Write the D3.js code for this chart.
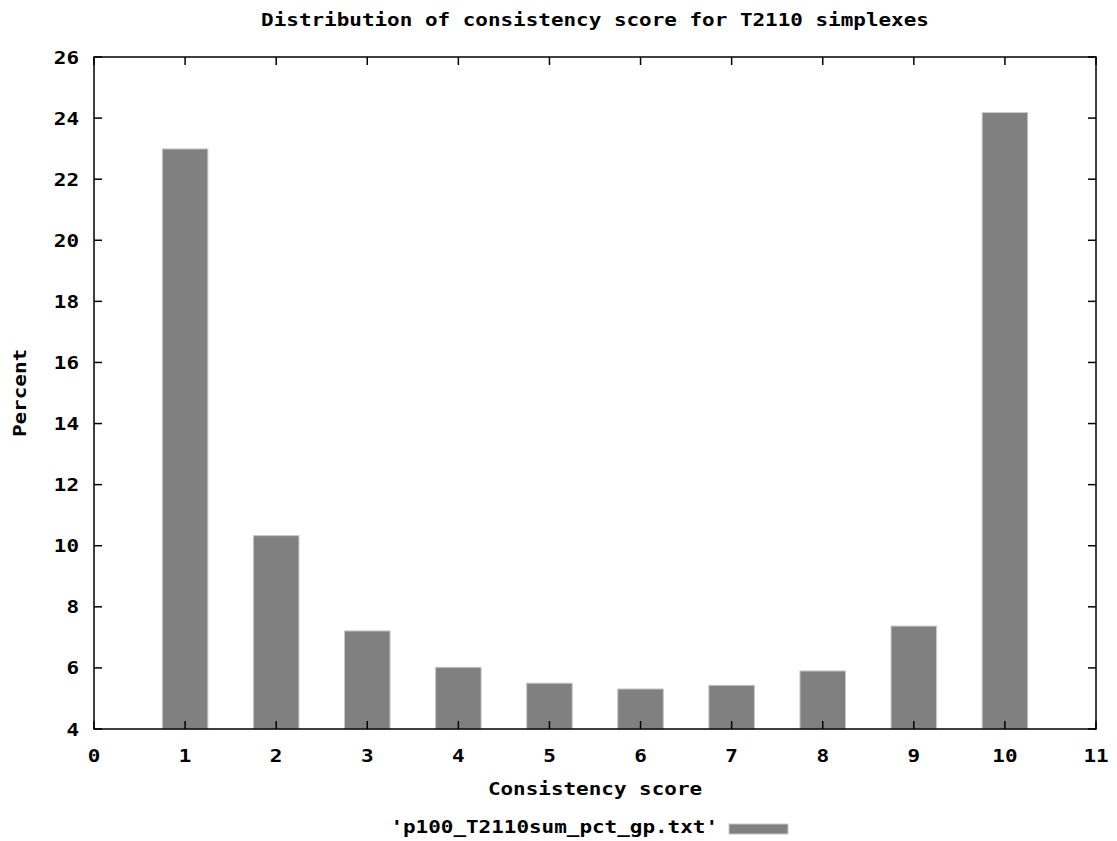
<!DOCTYPE html>
<html>
<head>
<meta charset="utf-8">
<script src="https://cdn.jsdelivr.net/npm/d3@7"></script>
<style>
  body { margin: 0; background: #fff; }
  text { font-family: "DejaVu Sans Mono", monospace; font-weight: bold; fill: #000; }
</style>
</head>
<body>
<div id="chart"></div>
<script>
const width = 1117;
const height = 841;
const margin = {top: 57, right: 21, bottom: 112, left: 94};
const charW = 12.6; // the bitmap font is wide, stretch text to match

const scores = [1, 2, 3, 4, 5, 6, 7, 8, 9, 10];
const percents = [22.99, 10.33, 7.21, 6.02, 5.50, 5.31, 5.43, 5.90, 7.37, 24.18];
const xTicks = [0, 1, 2, 3, 4, 5, 6, 7, 8, 9, 10, 11];
const yTicks = [4, 6, 8, 10, 12, 14, 16, 18, 20, 22, 24, 26];
const seriesName = "'p100_T2110sum_pct_gp.txt'";

const svg = d3.select("#chart").append("svg")
    .attr("width", width)
    .attr("height", height);

const x = d3.scaleLinear()
    .domain([0, 11])
    .range([margin.left, width - margin.right]);
const y = d3.scaleLinear()
    .domain([4, 26])
    .range([height - margin.bottom, margin.top]);

function label(str, px, py, anchor) {
    return svg.append("text")
        .attr("x", px)
        .attr("y", py)
        .attr("text-anchor", anchor || "middle")
        .style("font-size", "18px")
        .attr("textLength", str.length * charW)
        .attr("lengthAdjust", "spacingAndGlyphs")
        .text(str);
}

// bars, width 0.5 units
svg.append("g")
    .selectAll("rect")
    .data(scores)
    .enter().append("rect")
    .attr("x", (d) => x(d - 0.25))
    .attr("width", x(0.5) - x(0))
    .attr("y", (d, i) => y(percents[i]))
    .attr("height", (d, i) => y(4) - y(percents[i]))
    .attr("fill", "#808080")
    .attr("stroke", "#c8c8c8")
    .attr("stroke-width", 1);

// inward ticks on all four sides
const tickLen = 8;
const ticks = svg.append("g").attr("stroke", "#000").attr("stroke-width", 1.5);
xTicks.forEach((t) => {
    ticks.append("line").attr("x1", x(t)).attr("x2", x(t))
        .attr("y1", y(4)).attr("y2", y(4) - tickLen);
    ticks.append("line").attr("x1", x(t)).attr("x2", x(t))
        .attr("y1", y(26)).attr("y2", y(26) + tickLen);
});
yTicks.forEach((t) => {
    ticks.append("line").attr("x1", x(0)).attr("x2", x(0) + tickLen)
        .attr("y1", y(t)).attr("y2", y(t));
    ticks.append("line").attr("x1", x(11)).attr("x2", x(11) - tickLen)
        .attr("y1", y(t)).attr("y2", y(t));
});

// frame
svg.append("rect")
    .attr("x", x(0))
    .attr("y", y(26))
    .attr("width", x(11) - x(0))
    .attr("height", y(4) - y(26))
    .attr("fill", "none")
    .attr("stroke", "#000")
    .attr("stroke-width", 1.5);

// tick labels
xTicks.forEach((t) => label(String(t), x(t), y(4) + 33));
yTicks.forEach((t) => label(String(t), x(0) - 15, y(t) + 6.5, "end"));

// titles
label("Distribution of consistency score for T2110 simplexes", (x(0) + x(11)) / 2, 26);
label("Consistency score", (x(0) + x(11)) / 2, 795);
label("Percent", 0, 0).attr("transform", "translate(26,393) rotate(-90)");

// legend
label(seriesName, 718, 833, "end");
svg.append("rect")
    .attr("x", 729)
    .attr("y", 824)
    .attr("width", 59)
    .attr("height", 10)
    .attr("fill", "#808080")
    .attr("stroke", "#c8c8c8")
    .attr("stroke-width", 1);
</script>
</body>
</html>
